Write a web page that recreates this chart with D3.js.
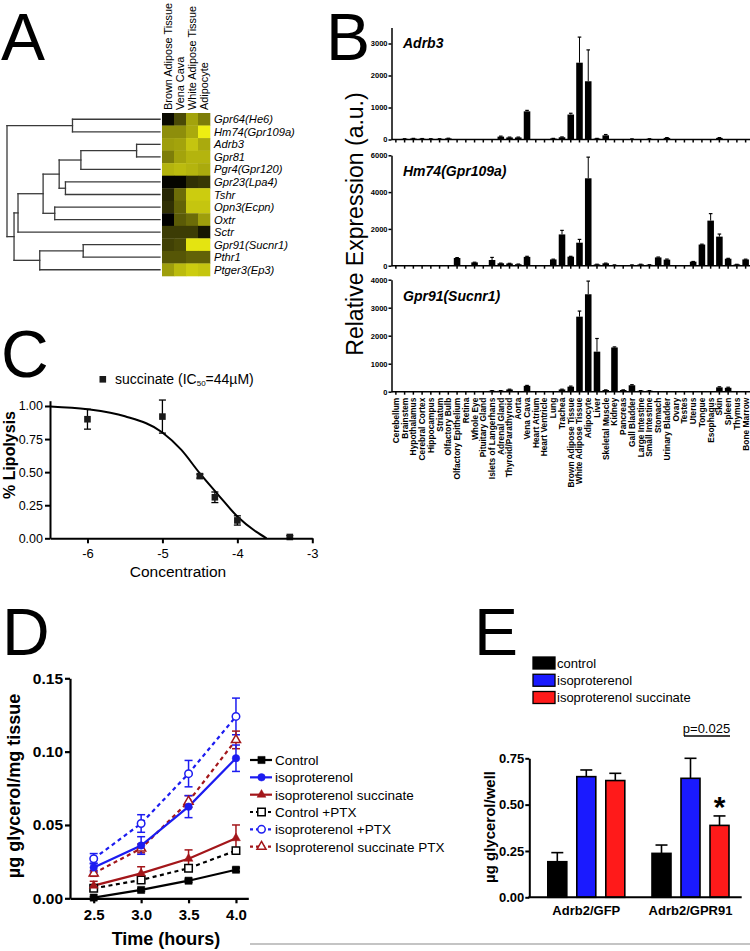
<!DOCTYPE html>
<html>
<head>
<meta charset="utf-8">
<script src="https://cdn.jsdelivr.net/npm/d3@7/dist/d3.min.js"></script>
<style>
html,body{margin:0;padding:0;background:#fff;}
svg{display:block;font-family:"Liberation Sans",Arial,Helvetica,sans-serif;}
</style>
</head>
<body>
<svg id="fig" width="750" height="951" viewBox="0 0 750 951"></svg>
<script>
// ================= DATA =================
// ---- Panel A: heatmap + dendrogram ----
const heatmapColumns = ["Brown Adipose Tissue","Vena Cava","White Adipose Tissue","Adipocyte"];
const heatmapRows = ["Gpr64(He6)","Hm74(Gpr109a)","Adrb3","Gpr81","Pgr4(Gpr120)","Gpr23(Lpa4)","Tshr","Opn3(Ecpn)","Oxtr","Sctr","Gpr91(Sucnr1)","Pthr1","Ptger3(Ep3)"];
const heatmapValues = [
  [0.04,0.31,0.68,0.52],
  [0.59,0.59,0.71,0.99],
  [0.66,0.68,0.82,0.71],
  [0.52,0.68,0.75,0.75],
  [0.75,0.78,0.75,0.71],
  [0.02,0.02,0.20,0.23],
  [0.16,0.45,0.85,0.85],
  [0.20,0.41,0.82,0.82],
  [0.00,0.38,0.45,0.66],
  [0.25,0.25,0.25,0.09],
  [0.27,0.31,0.95,0.95],
  [0.36,0.36,0.41,0.41],
  [0.66,0.78,0.85,0.82]
];
// merge heights (0 = leaves, 1 = root)
const dendrogram = {h:1.0, c:[
  {h:0.572, c:[{n:"Gpr64(He6)"},{n:"Hm74(Gpr109a)"}]},
  {h:0.954, c:[
    {h:0.928, c:[
      {h:0.764, c:[
        {h:0.659, c:[
          {h:0.517, c:[{h:0.153, c:[{n:"Adrb3"},{n:"Gpr81"}]},{n:"Pgr4(Gpr120)"}]},
          {h:0.618, c:[{n:"Gpr23(Lpa4)"},{n:"Tshr"}]}
        ]},
        {h:0.688, c:[{n:"Opn3(Ecpn)"},{n:"Oxtr"}]}
      ]},
      {n:"Sctr"}
    ]},
    {h:0.786, c:[{h:0.502, c:[{n:"Gpr91(Sucnr1)"},{n:"Pthr1"}]},{n:"Ptger3(Ep3)"}]}
  ]}
]};

// ---- Panel B: tissue expression ----
const tissues = ["Cerebellum","Brainstem","Hypothalamus","Cerebral Cortex","Hippocampus","Striatum","Olfactory Bulb","Olfactory Epithelium","Retina","Whole Eye","Pituitary Gland","Islets of Langerhans","Adrenal Gland","Thyroid/Parathyroid","Aorta","Vena Cava","Heart Atrium","Heart Ventricle","Lung","Trachea","Brown Adipose Tissue","White Adipose Tissue","Adipocyte","Liver","Skeletal Muscle","Kidney","Pancreas","Gall Bladder","Large Intestine","Small Intestine","Stomach","Urinary Bladder","Ovary","Testes","Uterus","Tongue","Esophagus","Skin","Spleen","Thymus","Bone Marrow"];
const adrb3 = [0,20,30,25,20,20,35,0,0,0,
  0,0,90,65,65,880,0,0,30,70,
  780,2400,1820,30,130,0,0,15,0,20,
  0,50,0,0,0,0,0,50,0,0,
  0];
const adrb3Err = [0,5,5,5,5,5,5,0,0,0,
  0,0,15,10,10,30,0,0,5,10,
  40,800,980,5,25,0,0,5,0,5,
  0,10,0,0,0,0,0,10,0,0,
  0];
const hm74 = [0,0,0,0,0,0,0,420,0,180,
  0,310,130,120,80,480,0,0,340,1700,
  490,1250,4750,70,130,40,0,40,70,50,
  450,330,0,0,220,1150,2450,1580,380,70,
  340];
const hm74Err = [0,0,0,0,0,0,0,20,0,10,
  0,140,10,10,10,30,0,0,15,220,
  20,180,1150,10,10,5,0,5,10,5,
  20,30,0,0,10,20,380,140,20,5,
  15];
const gpr91 = [0,0,0,0,0,0,0,0,0,0,
  0,35,35,80,0,210,0,0,0,80,
  180,2680,3480,1430,60,1580,60,230,35,35,
  0,0,0,0,0,0,0,155,140,0,
  0];
const gpr91Err = [0,0,0,0,0,0,0,0,0,0,
  0,5,5,10,0,15,0,0,0,10,
  20,200,470,470,5,20,5,20,5,5,
  0,0,0,0,0,0,0,20,20,0,
  0];
const adrb3Ticks = [0,1000,2000,3000];
const hm74Ticks = [0,2000,4000,6000];
const gpr91Ticks = [0,1000,2000,3000,4000];

// ---- Panel C: dose response ----
const concLog = [-6,-5,-4.5,-4.3,-4,-3.3];
const lipolysis = [0.90,0.92,0.47,0.31,0.135,0.01];
const lipolysisErr = [0.075,0.125,0.015,0.04,0.035,0.01];
const fitX = [-6.5,-6,-5.5,-5,-4.75,-4.5,-4.25,-4,-3.75,-3.61];
const fitY = [0.997,0.975,0.922,0.80,0.67,0.49,0.325,0.165,0.05,0];
const cTicksX = [-6,-5,-4,-3];
const cTicksY = [0,0.25,0.5,0.75,1.0];

// ---- Panel D: time course ----
const timeHours = [2.5,3.0,3.5,4.0];
const dSeriesNames = ["Control","isoproterenol","isoproterenol succinate","Control +PTX","isoproterenol +PTX","Isoproterenol succinate PTX"];
const control = [0.0005,0.0057,0.012,0.0195];
const controlErr = [0.0005,0.001,0.001,0.0012];
const iso = [0.021,0.036,0.0625,0.0955];
const isoErr = [0.003,0.006,0.0075,0.009];
const isoSucc = [0.0086,0.017,0.027,0.041];
const isoSuccErr = [0.003,0.0045,0.006,0.009];
const controlPTX = [0.0068,0.0125,0.0205,0.0325];
const controlPTXErr = [0.002,0.002,0.002,0.002];
const isoPTX = [0.027,0.051,0.085,0.124];
const isoPTXErr = [0.0035,0.006,0.009,0.0125];
const isoSuccPTX = [0.017,0.034,0.066,0.108];
const isoSuccPTXErr = [0.002,0.003,0.004,0.006];
const dTicksX = [2.5,3.0,3.5,4.0];
const dTicksY = [0,0.05,0.10,0.15];

// ---- Panel E: glycerol bars ----
const eGroups = ["Adrb2/GFP","Adrb2/GPR91"];
const eTreatments = ["control","isoproterenol","isoproterenol succinate"];
const glycerolGFP = [0.192,0.651,0.630];
const glycerolGFPErr = [0.049,0.036,0.039];
const glycerolGPR91 = [0.237,0.642,0.388];
const glycerolGPR91Err = [0.045,0.108,0.051];
const eTicksY = [0,0.25,0.5,0.75];

// ================= DRAWING =================
const svg = d3.select("#fig");
svg.append("rect").attr("width",750).attr("height",951).attr("fill","#fff");

function panelLetter(s,x,y){
  svg.append("text").attr("x",x).attr("y",y).attr("font-size",66).attr("fill","#000").text(s);
}
panelLetter("A",1,60); panelLetter("B",326,60); panelLetter("C",1,377);
panelLetter("D",2,655); panelLetter("E",474,655);

function styleAxis(g, lw, fs, bold){
  g.select(".domain").attr("stroke","#000").attr("stroke-width",lw);
  g.selectAll(".tick line").attr("stroke","#000").attr("stroke-width",lw);
  g.selectAll(".tick text").attr("fill","#000").attr("font-size",fs)
    .attr("font-weight",bold?"bold":"normal")
    .attr("font-family","'Liberation Sans',Arial,sans-serif");
}

// ---------- Panel A ----------
(function(){
  const g = svg.append("g");
  const hx = d3.scaleBand().domain(heatmapColumns).range([162,210]);
  const hy = d3.scaleBand().domain(heatmapRows).range([113,276]);
  const col = d3.scaleLinear().domain([0,1]).range(["#000000","#f0f012"]).interpolate(d3.interpolateRgb);
  const cells = heatmapRows.flatMap((r,i)=>heatmapColumns.map((c,j)=>({r,c,v:heatmapValues[i][j]})));
  g.selectAll("rect.cell").data(cells).join("rect")
    .attr("x",d=>hx(d.c)).attr("y",d=>hy(d.r))
    .attr("width",hx.bandwidth()+0.3).attr("height",hy.bandwidth()+0.3)
    .attr("fill",d=>col(d.v));
  g.selectAll("text.col").data(heatmapColumns).join("text")
    .attr("transform",d=>`translate(${hx(d)+hx.bandwidth()/2},110) rotate(-90)`)
    .attr("dy","0.36em").attr("font-size",10.9).attr("fill","#000").text(d=>d);
  g.selectAll("text.row").data(heatmapRows).join("text")
    .attr("x",214).attr("y",d=>hy(d)+hy.bandwidth()/2).attr("dy","0.36em")
    .attr("font-size",11.2).attr("font-style","italic").attr("fill","#000").text(d=>d);

  const root = d3.hierarchy(dendrogram, d=>d.c);
  const dxs = d3.scaleLinear().domain([0,1]).range([160,7]);
  root.eachAfter(n=>{
    n.px = dxs(n.data.h||0);
    n.py = n.children ? (n.children[0].py + n.children[n.children.length-1].py)/2
                      : hy(n.data.n)+hy.bandwidth()/2;
  });
  const segs = [];
  root.each(n=>{
    if(n.children){
      segs.push([n.px,n.children[0].py,n.px,n.children[n.children.length-1].py]);
      n.children.forEach(c=>segs.push([c.px,c.py,n.px,c.py]));
    }
  });
  g.selectAll("line.dg").data(segs).join("line")
    .attr("x1",d=>d[0]).attr("y1",d=>d[1]).attr("x2",d=>d[2]).attr("y2",d=>d[3])
    .attr("stroke","#3a3a3a").attr("stroke-width",1.3).attr("stroke-linecap","square");
})();

// ---------- Panel B ----------
(function(){
  const bx = d3.scaleBand().domain(tissues).range([391.5,750]).paddingInner(0.25).paddingOuter(0.125);
  const panels = [
    {title:"Adrb3", vals:adrb3, err:adrb3Err, max:3500, ticks:adrb3Ticks, y0:139.5, y1:27.5, ty:48},
    {title:"Hm74(Gpr109a)", vals:hm74, err:hm74Err, max:6000, ticks:hm74Ticks, y0:265.7, y1:155.3, ty:176},
    {title:"Gpr91(Sucnr1)", vals:gpr91, err:gpr91Err, max:4000, ticks:gpr91Ticks, y0:391.7, y1:279.7, ty:301}
  ];
  panels.forEach((p,pi)=>{
    const g = svg.append("g");
    const y = d3.scaleLinear().domain([0,p.max]).range([p.y0,p.y1]);
    const data = tissues.map((t,i)=>({t,v:p.vals[i],e:p.err[i]}));
    g.selectAll("rect").data(data.filter(d=>d.v>0)).join("rect")
      .attr("x",d=>bx(d.t)).attr("y",d=>y(d.v)).attr("width",bx.bandwidth())
      .attr("height",d=>y(0)-y(d.v)).attr("fill","#000");
    const eb = data.filter(d=>d.v>0 && d.e>0);
    g.selectAll("line.ev").data(eb).join("line")
      .attr("x1",d=>bx(d.t)+bx.bandwidth()/2).attr("x2",d=>bx(d.t)+bx.bandwidth()/2)
      .attr("y1",d=>y(d.v)).attr("y2",d=>y(d.v+d.e)).attr("stroke","#000").attr("stroke-width",1);
    g.selectAll("line.ec").data(eb).join("line")
      .attr("x1",d=>bx(d.t)+bx.bandwidth()/2-1.8).attr("x2",d=>bx(d.t)+bx.bandwidth()/2+1.8)
      .attr("y1",d=>y(d.v+d.e)).attr("y2",d=>y(d.v+d.e)).attr("stroke","#000").attr("stroke-width",1.2);
    const ya = g.append("g").attr("transform","translate(391.5,0)")
      .call(d3.axisLeft(y).tickValues(p.ticks).tickSize(3).tickPadding(1).tickSizeOuter(0).tickFormat(d3.format("d")));
    styleAxis(ya,1.5,7.5,true);
    const xa = g.append("g").attr("transform",`translate(0,${p.y0})`)
      .call(d3.axisBottom(bx).tickSize(3).tickSizeOuter(0).tickFormat(pi===2?(d=>d):""));
    styleAxis(xa,1.5,8.4,true);
    xa.select(".domain").attr("d",`M391.5,0H750`);
    if(pi===2){
      xa.selectAll(".tick text").attr("transform","rotate(-90)").attr("x",-6).attr("y",0)
        .attr("dy","0.35em").attr("text-anchor","end");
    }
    g.append("text").attr("x",403).attr("y",p.ty).attr("font-size",14).attr("font-weight","bold")
      .attr("font-style","italic").attr("fill","#000").text(p.title);
  });
  svg.append("text").attr("transform","translate(363,224) rotate(-90)")
    .attr("text-anchor","middle").attr("font-size",23).attr("fill","#000").text("Relative Expression (a.u.)");
})();

// ---------- Panel C ----------
(function(){
  const g = svg.append("g");
  const x = d3.scaleLinear().domain([-6.5,-3]).range([50,312.3]);
  const y = d3.scaleLinear().domain([0,1.04]).range([538.3,400.7]);
  const fit = fitX.map((v,i)=>[v,fitY[i]]);
  g.append("path").datum(fit).attr("fill","none").attr("stroke","#000").attr("stroke-width",2)
    .attr("d",d3.line().x(d=>x(d[0])).y(d=>y(d[1])).curve(d3.curveMonotoneX));
  const pts = concLog.map((c,i)=>({c,v:lipolysis[i],e:lipolysisErr[i]}));
  pts.forEach(d=>{
    const cx = x(d.c);
    g.append("line").attr("x1",cx).attr("x2",cx).attr("y1",y(d.v-d.e)).attr("y2",y(d.v+d.e))
      .attr("stroke","#000").attr("stroke-width",1.3);
    [d.v-d.e,d.v+d.e].forEach(v=>g.append("line").attr("x1",cx-3.5).attr("x2",cx+3.5)
      .attr("y1",y(v)).attr("y2",y(v)).attr("stroke","#000").attr("stroke-width",1.3));
  });
  g.selectAll("rect.pt").data(pts).join("rect")
    .attr("x",d=>x(d.c)-3.3).attr("y",d=>y(d.v)-3.3).attr("width",6.6).attr("height",6.6).attr("fill","#1a1a1a");
  const xa = g.append("g").attr("transform","translate(0,538.3)")
    .call(d3.axisBottom(x).tickValues(cTicksX).tickSize(5).tickPadding(5).tickSizeOuter(0).tickFormat(d=>String(d)));
  styleAxis(xa,2,13,false);
  const ya = g.append("g").attr("transform","translate(50,0)")
    .call(d3.axisLeft(y).tickValues(cTicksY).tickSize(5).tickPadding(2).tickSizeOuter(0).tickFormat(d3.format(".2f")));
  styleAxis(ya,2,12.5,false);
  g.append("text").attr("x",178).attr("y",577).attr("text-anchor","middle").attr("font-size",15.5).attr("fill","#000").text("Concentration");
  g.append("text").attr("transform","translate(15,455) rotate(-90)").attr("text-anchor","middle")
    .attr("font-size",16).attr("font-weight","bold").attr("fill","#000").text("% Lipolysis");
  g.append("rect").attr("x",99.5).attr("y",376).attr("width",6.6).attr("height",6.6).attr("fill","#1a1a1a");
  const lt = g.append("text").attr("x",115).attr("y",384).attr("font-size",14).attr("fill","#000");
  lt.append("tspan").text("succinate (IC");
  lt.append("tspan").attr("font-size",8).attr("dy",2).text("50");
  lt.append("tspan").attr("dy",-2).text("=44\u00B5M)");
})();

// ---------- Panel D ----------
(function(){
  const g = svg.append("g");
  const x = d3.scaleLinear().domain([2.25,4.13]).range([70,248.3]);
  const y = d3.scaleLinear().domain([0,0.15]).range([898.3,678.3]);
  const blue = "#1c1cf0", red = "#a3161a";
  const series = [
    {name:dSeriesNames[0], v:control, e:controlErr, color:"#000", dash:null, sym:d3.symbolSquare, size:52, fill:true},
    {name:dSeriesNames[1], v:iso, e:isoErr, color:blue, dash:null, sym:d3.symbolCircle, size:44, fill:true},
    {name:dSeriesNames[2], v:isoSucc, e:isoSuccErr, color:red, dash:null, sym:d3.symbolTriangle, size:34, fill:true},
    {name:dSeriesNames[3], v:controlPTX, e:controlPTXErr, color:"#000", dash:"4,3.5", sym:d3.symbolSquare, size:56, fill:false},
    {name:dSeriesNames[4], v:isoPTX, e:isoPTXErr, color:blue, dash:"4,3.5", sym:d3.symbolCircle, size:44, fill:false},
    {name:dSeriesNames[5], v:isoSuccPTX, e:isoSuccPTXErr, color:red, dash:"4,3.5", sym:d3.symbolTriangle, size:36, fill:false}
  ];
  const line = d3.line().x(d=>x(d[0])).y(d=>y(d[1]));
  const draw = [3,4,5,0,2,1];
  draw.forEach(si=>{
    const s = series[si];
    const pts = timeHours.map((t,i)=>[t,s.v[i],s.e[i]]);
    g.append("path").datum(pts).attr("fill","none").attr("stroke",s.color).attr("stroke-width",2.2)
      .attr("stroke-dasharray",s.dash).attr("d",line);
    pts.forEach(p=>{
      const cx = x(p[0]);
      g.append("line").attr("x1",cx).attr("x2",cx).attr("y1",y(Math.max(0,p[1]-p[2]))).attr("y2",y(p[1]+p[2]))
        .attr("stroke",s.color).attr("stroke-width",1.5);
      [p[1]-p[2],p[1]+p[2]].forEach(v=>{ if(v>0) g.append("line").attr("x1",cx-4).attr("x2",cx+4)
        .attr("y1",y(v)).attr("y2",y(v)).attr("stroke",s.color).attr("stroke-width",1.5);});
    });
  });
  draw.forEach(si=>{
    const s = series[si];
    timeHours.forEach((t,i)=>{
      g.append("path").attr("d",d3.symbol(s.sym,s.size)())
        .attr("transform",`translate(${x(t)},${y(s.v[i])})`)
        .attr("fill",s.fill?s.color:"#fff").attr("stroke",s.color).attr("stroke-width",s.fill?0.5:1.5);
    });
  });
  const xa = g.append("g").attr("transform","translate(0,898.3)")
    .call(d3.axisBottom(x).tickValues(dTicksX).tickSize(5).tickPadding(6).tickSizeOuter(0).tickFormat(d3.format(".1f")));
  styleAxis(xa,2.2,15,true);
  const ya = g.append("g").attr("transform","translate(70,0)")
    .call(d3.axisLeft(y).tickValues(dTicksY).tickSize(5).tickPadding(2).tickSizeOuter(0).tickFormat(d3.format(".2f")));
  styleAxis(ya,2.2,15.5,true);
  g.append("text").attr("x",166).attr("y",945).attr("text-anchor","middle").attr("font-size",18)
    .attr("font-weight","bold").attr("fill","#000").text("Time (hours)");
  g.append("text").attr("transform","translate(20,786) rotate(-90)").attr("text-anchor","middle")
    .attr("font-size",18).attr("font-weight","bold").attr("fill","#000").text("\u00B5g glycerol/mg tissue");
  // legend
  const ly = d3.scalePoint().domain(dSeriesNames).range([760,846.7]);
  series.forEach(s=>{
    const yy = ly(s.name);
    g.append("line").attr("x1",250).attr("x2",272).attr("y1",yy).attr("y2",yy)
      .attr("stroke",s.color).attr("stroke-width",2.2).attr("stroke-dasharray",s.dash?"3,3":null);
    g.append("path").attr("d",d3.symbol(s.sym,s.size)()).attr("transform",`translate(261.5,${yy})`)
      .attr("fill",s.fill?s.color:"#fff").attr("stroke",s.color).attr("stroke-width",s.fill?0.5:1.5);
    g.append("text").attr("x",275).attr("y",yy).attr("dy","0.36em").attr("font-size",13.5).attr("fill","#000").text(s.name);
  });
})();

// ---------- Panel E ----------
(function(){
  const g = svg.append("g");
  const x0 = d3.scalePoint().domain(eGroups).range([586.3,690.5]);
  const x1 = d3.scaleBand().domain(eTreatments).range([-43.5,43.5]).paddingInner(0.345).paddingOuter(0.1725);
  const y = d3.scaleLinear().domain([0,0.75]).range([897.3,758.3]);
  const colors = d3.scaleOrdinal().domain(eTreatments).range(["#000000","#1a1aff","#ff1a1a"]);
  const vals = [glycerolGFP, glycerolGPR91], errs = [glycerolGFPErr, glycerolGPR91Err];
  const data = eGroups.flatMap((gname,gi)=>eTreatments.map((t,ti)=>({g:gname,t,v:vals[gi][ti],e:errs[gi][ti]})));
  data.forEach(d=>{
    const cx = x0(d.g)+x1(d.t)+x1.bandwidth()/2;
    g.append("line").attr("x1",cx).attr("x2",cx).attr("y1",y(d.v)).attr("y2",y(d.v+d.e)).attr("stroke","#000").attr("stroke-width",1.6);
    g.append("line").attr("x1",cx-6).attr("x2",cx+6).attr("y1",y(d.v+d.e)).attr("y2",y(d.v+d.e)).attr("stroke","#000").attr("stroke-width",1.6);
  });
  g.selectAll("rect.bar").data(data).join("rect")
    .attr("x",d=>x0(d.g)+x1(d.t)).attr("y",d=>y(d.v)).attr("width",x1.bandwidth())
    .attr("height",d=>y(0)-y(d.v)).attr("fill",d=>colors(d.t)).attr("stroke","#000").attr("stroke-width",1.6);
  const ya = g.append("g").attr("transform","translate(529.3,0)")
    .call(d3.axisLeft(y).tickValues(eTicksY).tickSize(4).tickPadding(1).tickSizeOuter(0).tickFormat(d3.format(".2f")));
  styleAxis(ya,2,13,true);
  g.append("line").attr("x1",528.3).attr("x2",741.7).attr("y1",897.3).attr("y2",897.3).attr("stroke","#000").attr("stroke-width",2);
  g.selectAll("text.cat").data(eGroups).join("text")
    .attr("x",d=>x0(d)).attr("y",915).attr("text-anchor","middle").attr("font-size",13)
    .attr("font-weight","bold").attr("fill","#000").text(d=>d);
  g.append("text").attr("transform","translate(495,827) rotate(-90)").attr("text-anchor","middle")
    .attr("font-size",15).attr("font-weight","bold").attr("fill","#000").text("\u00B5g glycerol/well");
  // significance
  g.append("text").attr("x",706.5).attr("y",732.5).attr("text-anchor","middle").attr("font-size",13).attr("fill","#000").text("p=0.025");
  g.append("line").attr("x1",684).attr("x2",730).attr("y1",736).attr("y2",736).attr("stroke","#000").attr("stroke-width",1.3);
  const sx = x0("Adrb2/GPR91")+x1("isoproterenol succinate")+x1.bandwidth()/2;
  g.append("text").attr("x",sx).attr("y",817).attr("text-anchor","middle").attr("font-size",30)
    .attr("font-weight","bold").attr("fill","#000").text("*");
  // legend
  const ly = d3.scalePoint().domain(eTreatments).range([663,697.5]);
  eTreatments.forEach(t=>{
    g.append("rect").attr("x",533).attr("y",ly(t)-6).attr("width",22).attr("height",12)
      .attr("fill",colors(t)).attr("stroke","#000").attr("stroke-width",1.3);
    g.append("text").attr("x",557).attr("y",ly(t)).attr("dy","0.36em").attr("font-size",13).attr("fill","#000").text(t);
  });
})();

// bottom separator line
svg.append("line").attr("x1",250).attr("x2",750).attr("y1",944).attr("y2",944).attr("stroke","#b0b0b0").attr("stroke-width",1.5);
</script>
</body>
</html>
